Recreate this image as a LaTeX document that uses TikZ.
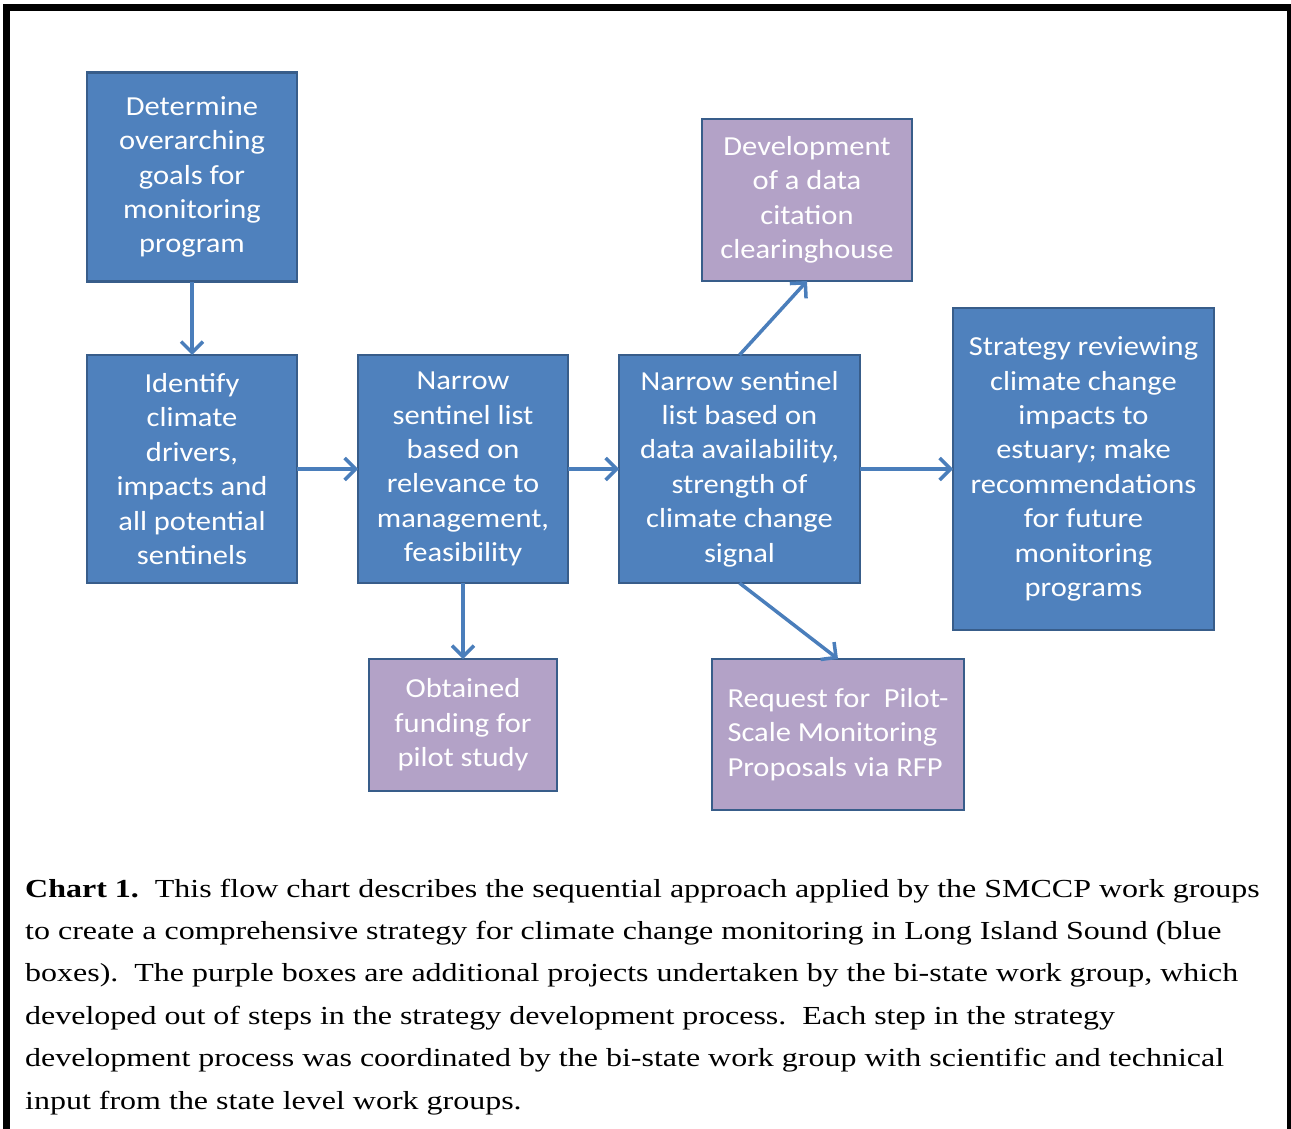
\documentclass[tikz,border=0pt]{standalone}
\usepackage{fontspec}
\setmainfont{Liberation Serif}[FakeStretch=1.23]
\newfontfamily\boxfont{Carlito}[FakeStretch=1.11]
\usetikzlibrary{arrows.meta}
\definecolor{boxblue}{HTML}{4F81BD}
\definecolor{boxpurple}{HTML}{B3A2C7}
\definecolor{edgecol}{HTML}{385D8A}
\definecolor{arrowblue}{HTML}{4A7EBB}
\tikzset{
  basebox/.style={rectangle, draw=edgecol, line width=2.5pt, text=white, align=center,
    inner sep=0pt, outer sep=0pt, font=\boxfont\fontsize{27.5}{34.4}\selectfont},
  bluebox/.style={basebox, fill=boxblue},
  purplebox/.style={basebox, fill=boxpurple},
  conn/.style={draw=arrowblue, line width=3.5pt, -{Straight Barb[length=11pt,width=22pt]}}
}
\begin{document}
\begin{tikzpicture}[x=1pt,y=-1pt]
\useasboundingbox (0,0) rectangle (1291,1129);
\fill[white] (0,0) rectangle (1291,1129);
% frame
\draw[line width=7pt] (6.5,1135) -- (6.5,8) -- (1290.5,8) -- (1290.5,1135);

\node[bluebox, minimum width=210pt, minimum height=209pt] (det) at (192,177)
  {Determine\\overarching\\goals for\\monitoring\\program};
\node[bluebox, minimum width=210pt, minimum height=228pt] (ident) at (192,469)
  {Identify\\climate\\drivers,\\impacts and\\all potential\\sentinels};
\node[bluebox, minimum width=210pt, minimum height=228pt] (narA) at (463,469)
  {Narrow\\sentinel list\\based on\\relevance to\\management,\\feasibility};
\node[bluebox, minimum width=241pt, minimum height=228pt] (narB) at (739.5,469)
  {Narrow sentinel\\list based on\\data availability,\\strength of\\climate change\\signal};
\node[bluebox, minimum width=261pt, minimum height=322pt] (strat) at (1083.5,469)
  {Strategy reviewing\\climate change\\impacts to\\estuary; make\\recommendations\\for future\\monitoring\\programs};
\node[purplebox, minimum width=210pt, minimum height=162pt] (dev) at (807,200)
  {Development\\of a data\\citation\\clearinghouse};
\node[purplebox, minimum width=188pt, minimum height=132pt] (fund) at (463,725)
  {Obtained\\funding for\\pilot study};
\node[purplebox, minimum width=252pt, minimum height=151pt, align=left] (req) at (838,734.5)
  {Request for\ \ Pilot-\\Scale Monitoring\\Proposals via RFP};

\draw[conn] (det) -- (ident);
\draw[conn] (ident) -- (narA);
\draw[conn] (narA) -- (narB);
\draw[conn] (narB) -- (strat);
\draw[conn] (narA.south) -- (fund.north);
\draw[conn] (narB.north) -- (dev.south);
\draw[conn] (narB.south) -- (req.north);

\node[anchor=base west, align=left, inner sep=0pt, font=\fontsize{26}{42.4}\selectfont] (cap) at (25,1109)
  {\textbf{Chart 1.}\ \ This flow chart describes the sequential approach applied by the SMCCP work groups\\
   to create a comprehensive strategy for climate change monitoring in Long Island Sound (blue\\
   boxes).\ \ The purple boxes are additional projects undertaken by the bi-state work group, which\\
   developed out of steps in the strategy development process.\ \ Each step in the strategy\\
   development process was coordinated by the bi-state work group with scientific and technical\\
   input from the state level work groups.};
\end{tikzpicture}
\end{document}
